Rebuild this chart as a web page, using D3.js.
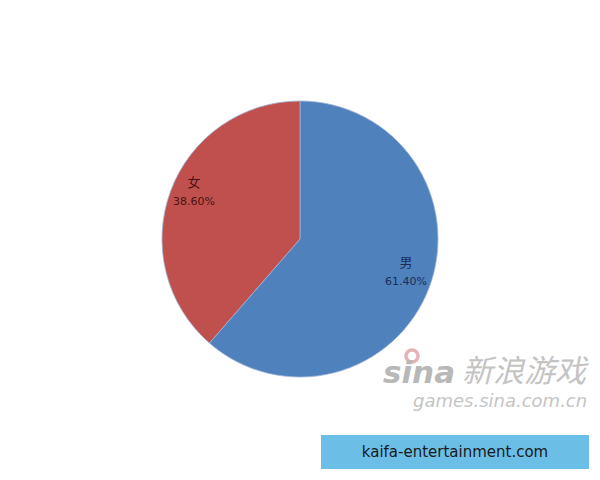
<!DOCTYPE html>
<html>
<head>
<meta charset="utf-8">
<script src="https://cdn.jsdelivr.net/npm/d3@7"></script>
<style>
  body { margin: 0; background: #fff; }
  svg { display: block; }
</style>
</head>
<body>
<div id="chart"></div>
<script>
// data
var categories = ["男", "女"];
var shares = [61.4, 38.6];
var pctLabels = ["61.40%", "38.60%"];

var width = 600, height = 480;
var cx = 300, cy = 239, radius = 138;

var svg = d3.select("#chart").append("svg")
  .attr("width", width)
  .attr("height", height);

var color = d3.scaleOrdinal().domain(categories).range(["#4f81bd", "#c0504d"]);
var textColor = d3.scaleOrdinal().domain(categories).range(["#1b2d55", "#4a1212"]);

var pie = d3.pie().sort(null).value(function (d) { return d.value; });
var data = categories.map(function (c, i) {
  return { name: c, value: shares[i], label: pctLabels[i] };
});
var arcs = pie(data);

var g = svg.append("g").attr("transform", "translate(" + cx + "," + cy + ")");

var arc = d3.arc().innerRadius(0).outerRadius(radius);
g.selectAll("path.slice")
  .data(arcs)
  .enter()
  .append("path")
  .attr("class", "slice")
  .attr("d", arc)
  .attr("fill", function (d) { return color(d.data.name); })
  .attr("stroke", "#9fb4d6")
  .attr("stroke-width", 0.8);

// labels, placed through a label arc
var labelArc = d3.arc().innerRadius(radius * 0.82).outerRadius(radius * 0.82);
var labels = g.selectAll("g.lbl")
  .data(arcs)
  .enter()
  .append("g")
  .attr("class", "lbl")
  .attr("transform", function (d) {
    var c = labelArc.centroid(d);
    return "translate(" + c[0] + "," + c[1] + ")";
  });

labels.append("text")
  .attr("text-anchor", "middle")
  .attr("y", -12)
  .style("font-family", "'Noto Sans CJK SC', sans-serif")
  .style("font-size", "13px")
  .attr("fill", function (d) { return textColor(d.data.name); })
  .text(function (d) { return d.data.name; });

labels.append("text")
  .attr("text-anchor", "middle")
  .attr("y", 6)
  .style("font-family", "'DejaVu Sans', sans-serif")
  .style("font-size", "11px")
  .attr("fill", function (d) { return textColor(d.data.name); })
  .text(function (d) { return d.data.label; });

// watermark
var wm = svg.append("g").attr("fill", "#c4c4c4");
wm.append("circle")
  .attr("cx", 412).attr("cy", 356).attr("r", 6)
  .attr("fill", "none").attr("stroke", "#e6b4b4").attr("stroke-width", 3.5);
wm.append("text")
  .attr("x", 383).attr("y", 383)
  .style("font-family", "'DejaVu Sans', sans-serif")
  .style("font-size", "31px")
  .style("font-weight", "bold")
  .style("font-style", "italic")
  .attr("fill", "#b8b8b8")
  .text("sina");
wm.append("text")
  .attr("x", 462).attr("y", 382)
  .style("font-family", "'Noto Sans CJK SC', sans-serif")
  .style("font-size", "31px")
  .style("font-style", "italic")
  .text("新浪游戏");
wm.append("text")
  .attr("x", 413).attr("y", 407)
  .style("font-family", "'DejaVu Sans', sans-serif")
  .style("font-size", "18px")
  .style("font-style", "italic")
  .text("games.sina.com.cn");

// footer box
svg.append("rect")
  .attr("x", 321).attr("y", 435)
  .attr("width", 268).attr("height", 34)
  .attr("fill", "#6bbfe6");
svg.append("text")
  .attr("x", 455).attr("y", 457)
  .attr("text-anchor", "middle")
  .style("font-family", "'DejaVu Sans', sans-serif")
  .style("font-size", "15px")
  .attr("fill", "#1a1a1a")
  .text("kaifa-entertainment.com");
</script>
</body>
</html>
